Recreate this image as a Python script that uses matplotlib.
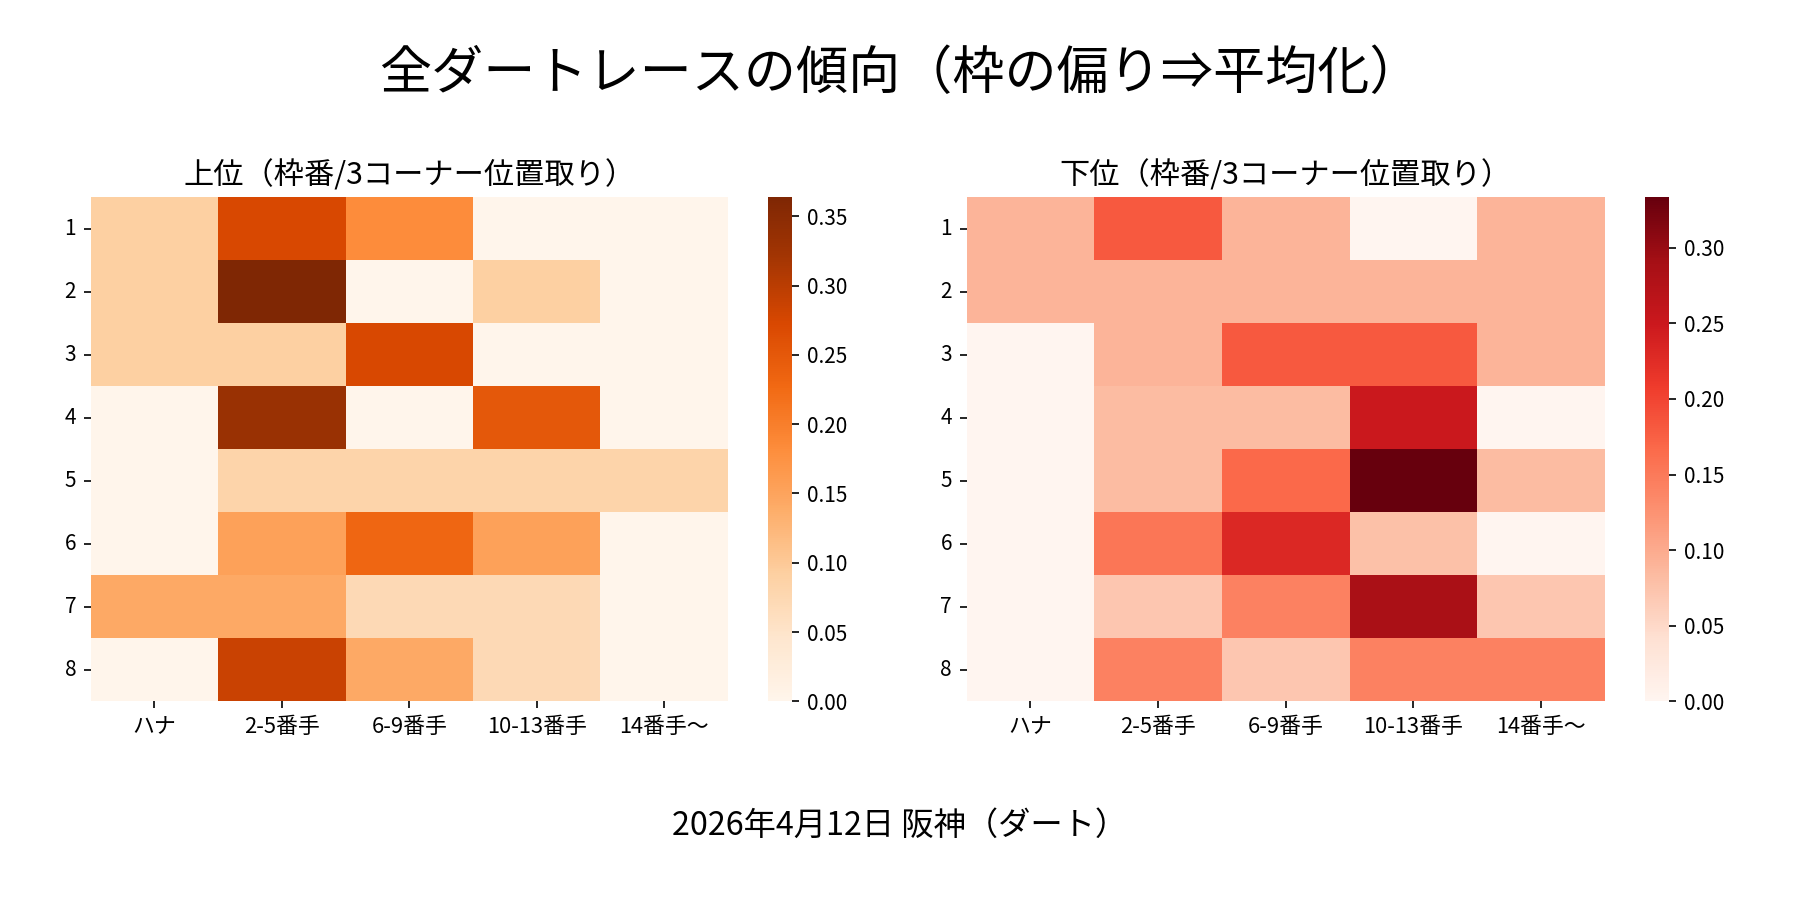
import numpy as np
import matplotlib
matplotlib.use("Agg")
import matplotlib.pyplot as plt
import seaborn as sns

plt.rcParams["font.family"] = ["Noto Sans CJK JP", "DejaVu Sans"]

frames = ["1", "2", "3", "4", "5", "6", "7", "8"]
positions = ["ハナ", "2-5番手", "6-9番手", "10-13番手", "14番手〜"]

# 上位: 枠番ごとの3コーナー位置取りの割合
top_vals = [
    [0.0909, 0.2727, 0.1818, 0.0, 0.0],
    [0.0909, 0.3636, 0.0, 0.0909, 0.0],
    [0.0909, 0.0909, 0.2727, 0.0, 0.0],
    [0.0, 0.3333, 0.0, 0.25, 0.0],
    [0.0, 0.0833, 0.0833, 0.0833, 0.0833],
    [0.0, 0.1538, 0.2308, 0.1538, 0.0],
    [0.1429, 0.1429, 0.0714, 0.0714, 0.0],
    [0.0, 0.2857, 0.1429, 0.0714, 0.0],
]

# 下位
bottom_vals = [
    [0.0909, 0.1818, 0.0909, 0.0, 0.0909],
    [0.0909, 0.0909, 0.0909, 0.0909, 0.0909],
    [0.0, 0.0909, 0.1818, 0.1818, 0.0909],
    [0.0, 0.0833, 0.0833, 0.25, 0.0],
    [0.0, 0.0833, 0.1667, 0.3333, 0.0833],
    [0.0, 0.1538, 0.2308, 0.0769, 0.0],
    [0.0, 0.0714, 0.1429, 0.2857, 0.0714],
    [0.0, 0.1429, 0.0714, 0.1429, 0.1429],
]

title = "全ダートレースの傾向（枠の偏り⇒平均化）"
footer = "2026年4月12日 阪神（ダート）"

fig = plt.figure(figsize=(12, 6), dpi=150)

ax1 = fig.add_axes([0.0504, 0.2207, 0.3539, 0.5599])
cax1 = fig.add_axes([0.4267, 0.2207, 0.0134, 0.5599])
ax2 = fig.add_axes([0.5370, 0.2207, 0.3546, 0.5599])
cax2 = fig.add_axes([0.9139, 0.2207, 0.0134, 0.5599])

panels = [
    (ax1, cax1, top_vals, "Oranges", "上位（枠番/3コーナー位置取り）"),
    (ax2, cax2, bottom_vals, "Reds", "下位（枠番/3コーナー位置取り）"),
]

for ax, cax, vals, cmap, sub in panels:
    sns.heatmap(
        np.array(vals),
        ax=ax,
        cbar_ax=cax,
        cmap=cmap,
        xticklabels=positions,
        yticklabels=frames,
    )
    ax.set_title(sub, fontsize=14.5)
    ax.tick_params(axis="y", rotation=0)
    ax.tick_params(axis="x", rotation=0)
    ax.set_xticklabels(positions, fontsize=10.5)

fig.text(0.5, 0.917, title, ha="center", va="center", fontsize=25)
fig.text(0.5, 0.082, footer, ha="center", va="center", fontsize=15.5)

fig.savefig("out.png", dpi=150)
